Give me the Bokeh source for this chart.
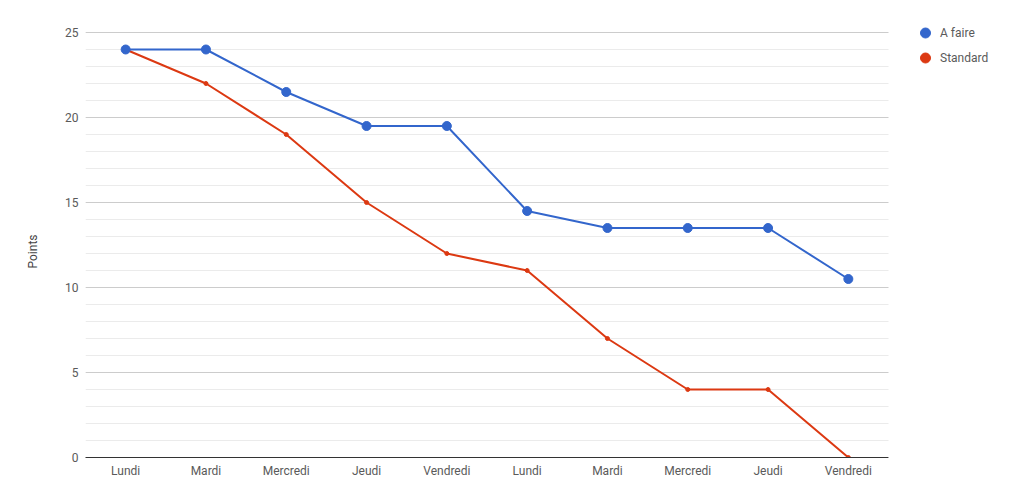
from bokeh.plotting import figure
from bokeh.models import (Range1d, FixedTicker, SingleIntervalTicker, Legend, LegendItem,
                          ColumnDataSource, BoxAnnotation, Title)
from bokeh.embed import file_html
from bokeh.resources import INLINE

days = ["Lundi", "Mardi", "Mercredi", "Jeudi", "Vendredi",
        "Lundi", "Mardi", "Mercredi", "Jeudi", "Vendredi"]
a_faire = [24, 24, 21.5, 19.5, 19.5, 14.5, 13.5, 13.5, 13.5, 10.5]
standard = [24, 22, 19, 15, 12, 11, 7, 4, 4, 0]
series_names = ["A faire", "Standard"]
y_title = "Points"
y_max = 25

BLUE = "#3366cc"
RED = "#dc3912"
FONT = "Roboto"
TXT = "#5a5a5a"

W, H = 1014, 503
LEFT, BOTTOM = 85, 46
PLOT_RIGHT, PLOT_TOP = 888, 32  # pixel extent of the data area
frame_w = W - LEFT
frame_h = H - BOTTOM

n = len(days)
xs = list(range(n))
x_px = (PLOT_RIGHT - LEFT) / n
y_px = (frame_h - PLOT_TOP) / y_max

p = figure(width=W, height=H, output_backend="svg", toolbar_location=None,
           x_range=Range1d(-0.5, -0.5 + frame_w / x_px),
           y_range=Range1d(0, frame_h / y_px),
           min_border_left=LEFT, min_border_right=0, min_border_top=0, min_border_bottom=BOTTOM)
p.outline_line_color = None
p.background_fill_color = "white"
p.border_fill_color = "white"

src_a = ColumnDataSource(dict(x=xs, y=a_faire))
src_s = ColumnDataSource(dict(x=xs, y=standard))

p.line("x", "y", source=src_s, line_color=RED, line_width=2)
p.scatter("x", "y", source=src_s, size=4, fill_color=RED, line_color=RED)
p.line("x", "y", source=src_a, line_color=BLUE, line_width=2)
p.scatter("x", "y", source=src_a, size=9, fill_color=BLUE, line_color=BLUE)

# white mask right of the data area (hides gridlines there)
p.add_layout(BoxAnnotation(left=n - 0.5, fill_color="white", fill_alpha=1,
                           line_color=None, level="annotation"))

# legend
nan = float("nan")
la = p.scatter(x=[nan], y=[nan], size=12, fill_color=BLUE, line_color=BLUE)
ls = p.scatter(x=[nan], y=[nan], size=12, fill_color=RED, line_color=RED)
legend = Legend(items=[LegendItem(label=series_names[0], renderers=[la]),
                       LegendItem(label=series_names[1], renderers=[ls])],
                location=(825, 387), orientation="vertical",
                glyph_width=30, glyph_height=25, label_height=14, spacing=0,
                label_standoff=0, padding=0, margin=0,
                border_line_color=None, background_fill_alpha=0,
                label_text_font=FONT, label_text_font_size="12px", label_text_color=TXT)
p.add_layout(legend, "center")

# x axis
p.xaxis.ticker = FixedTicker(ticks=xs)
p.xaxis.major_label_overrides = {i: d for i, d in enumerate(days)}
p.xaxis.bounds = (-0.5, n - 0.5)
p.xaxis.major_tick_line_color = None
p.xaxis.minor_tick_line_color = None
p.xaxis.major_tick_out = 0
p.xaxis.minor_tick_out = 0
p.xaxis.axis_line_color = "#333333"
p.xaxis.axis_line_width = 1
p.xaxis.major_label_standoff = 6
p.xaxis.major_label_text_font = FONT
p.xaxis.major_label_text_font_size = "12px"
p.xaxis.major_label_text_color = TXT
p.xgrid.grid_line_color = None

# y axis
p.yaxis.ticker = SingleIntervalTicker(interval=5, num_minor_ticks=5)
p.yaxis.bounds = (0, y_max)
p.yaxis.major_tick_line_color = None
p.yaxis.minor_tick_line_color = None
p.yaxis.major_tick_out = 0
p.yaxis.minor_tick_out = 0
p.yaxis.axis_line_color = None
p.yaxis.major_label_standoff = 7
p.yaxis.major_label_text_font = FONT
p.yaxis.major_label_text_font_size = "12px"
p.yaxis.major_label_text_color = TXT
p.ygrid.ticker = SingleIntervalTicker(interval=5, num_minor_ticks=5)
p.ygrid.bounds = (0, y_max)
p.ygrid.grid_line_color = "#cccccc"
p.ygrid.minor_grid_line_color = "#ebebeb"

# y axis title, centred on the data area
p.add_layout(Title(text=y_title, align="left", offset=189, standoff=45,
                   text_font=FONT, text_font_size="12px", text_font_style="normal",
                   text_color="#444444"), "left")

open("out.html", "w").write(file_html(p, INLINE))
